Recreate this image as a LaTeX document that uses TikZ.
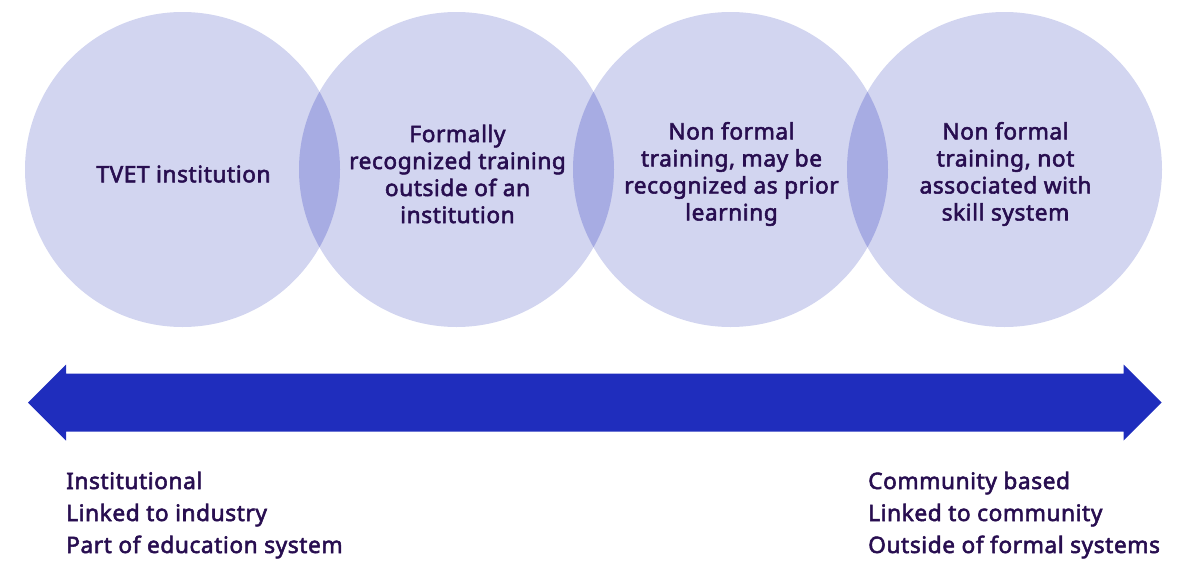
\documentclass[tikz,border=0pt]{standalone}
\usepackage{fontspec}
\setmainfont{Noto Sans}
\newfontfamily\semib{Noto Sans}[FakeBold=2.4, LetterSpace=2.5]
\definecolor{circfill}{HTML}{D2D5F0}
\definecolor{lensfill}{HTML}{A7ACE3}
\definecolor{arrowblue}{HTML}{1F2DBD}
\definecolor{txt}{HTML}{280E50}
\tikzset{
  bubble/.style={fill=circfill, draw=none},
  lens/.style={fill=lensfill, draw=none},
  bubbletext/.style={align=center, text=txt, font=\semib\fontsize{22.7}{27}\selectfont, inner sep=0pt},
  sidetext/.style={anchor=base west, text=txt, font=\semib\fontsize{22.7}{27}\selectfont, inner sep=0pt},
}
\begin{document}
\begin{tikzpicture}[x=1pt,y=-1pt]
\useasboundingbox (0,0) rectangle (1192,560);
\def\R{157.5}
\coordinate (c1) at (182.5,169.5);
\coordinate (c2) at (456.5,169.5);
\coordinate (c3) at (730.5,169.5);
\coordinate (c4) at (1004.5,169.5);
\foreach \c in {c1,c2,c3,c4} \fill[bubble] (\c) circle[radius=\R];
\begin{scope}\clip (c1) circle[radius=\R]; \fill[lens] (c2) circle[radius=\R]; \end{scope}
\begin{scope}\clip (c2) circle[radius=\R]; \fill[lens] (c3) circle[radius=\R]; \end{scope}
\begin{scope}\clip (c3) circle[radius=\R]; \fill[lens] (c4) circle[radius=\R]; \end{scope}
\node[bubbletext] (t1) at (183.5,174) {TVET institution};
\node[bubbletext] (t2) at (457.5,174) {Formally\\recognized training\\outside of an\\institution};
\node[bubbletext] (t3) at (731.5,174) {Non formal\\training, may be\\recognized as prior\\learning};
\node[bubbletext] (t4) at (1005.5,174) {Non formal\\training, not\\associated with\\skill system};
% double arrow
\coordinate (ltip) at (28,402.5);
\coordinate (rtip) at (1161.5,402.5);
\fill[arrowblue] (ltip) -- (66,364.5) -- (66,373.5) -- (1123.5,373.5) -- (1123.5,364.5) -- (rtip)
  -- (1123.5,440.5) -- (1123.5,431.5) -- (66,431.5) -- (66,440.5) -- cycle;
\node[sidetext] (l1) at (66,489) {Institutional};
\node[sidetext] (l2) at (66,521) {Linked to industry};
\node[sidetext] (l3) at (66,553) {Part of education system};
\node[sidetext] (r1) at (868,489) {Community based};
\node[sidetext] (r2) at (868,521) {Linked to community};
\node[sidetext] (r3) at (868,553) {Outside of formal systems};
\end{tikzpicture}
\end{document}
